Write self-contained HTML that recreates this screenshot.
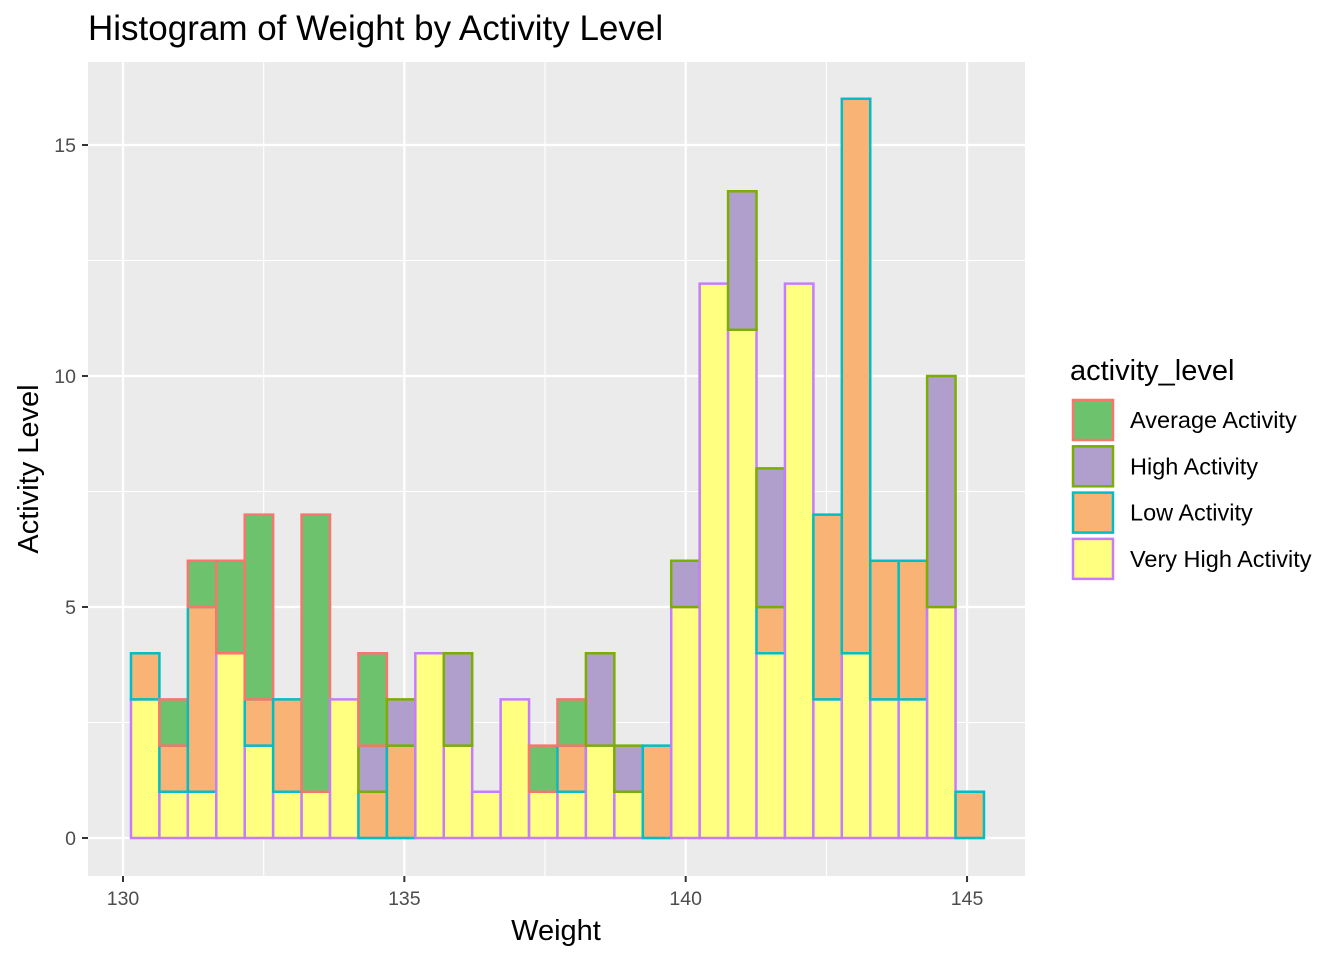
<!DOCTYPE html>
<html><head><meta charset="utf-8"><style>
body{margin:0;background:#fff;}
svg{display:block;font-family:"Liberation Sans",sans-serif;}
</style></head><body>
<svg id="chart" width="1344" height="960">
<rect x="88" y="62" width="937" height="814" fill="#EBEBEB"/>
<g id="grid"></g><g id="bars"></g><g id="axes"></g>
<text x="88" y="40" font-size="35" fill="#000">Histogram of Weight by Activity Level</text>
<text x="556" y="940" font-size="29" text-anchor="middle" fill="#000">Weight</text>
<text transform="translate(38,469) rotate(-90)" font-size="29" text-anchor="middle" fill="#000">Activity Level</text>
<g id="legend"></g>
</svg>
<script>
const levels=["Average Activity","High Activity","Low Activity","Very High Activity"];
const fills=["#6DC36D","#B09FCC","#F9B374","#FFFF80"];
const strokes=["#F8766D","#7CAE00","#00BFC4","#C77CFF"];
const veryHigh=[3,1,1,4,2,1,1,3,0,0,4,2,1,3,1,1,2,1,0,5,12,11,4,12,3,4,3,3,5,0];
const low=[1,1,4,0,1,2,0,0,1,2,0,0,0,0,0,1,0,0,2,0,0,0,1,0,4,12,3,3,0,1];
const high=[0,0,0,0,0,0,0,0,1,1,0,2,0,0,0,0,2,1,0,1,0,3,3,0,0,0,0,0,5,0];
const average=[0,1,1,2,4,0,6,0,2,0,0,0,0,0,1,1,0,0,0,0,0,0,0,0,0,0,0,0,0,0];
const xTicks=[130,135,140,145];
const yTicks=[0,5,10,15];
const binStart=130.142, binWidth=0.5053;
const NS="http://www.w3.org/2000/svg";
const X=v=>123+(v-130)*56.27;
const Y=v=>838-v*46.2;
function mk(tag,attrs,parent){const e=document.createElementNS(NS,tag);for(const k in attrs)e.setAttribute(k,attrs[k]);parent.appendChild(e);return e;}
const grid=document.getElementById('grid'),bars=document.getElementById('bars'),axes=document.getElementById('axes'),legend=document.getElementById('legend');
for(let i=0;i<xTicks.length-1;i++){const m=(xTicks[i]+xTicks[i+1])/2;const l=mk('line',{x1:X(m),x2:X(m),y1:62,y2:876,stroke:'#fff','stroke-width':1.1},grid);}
for(let i=0;i<yTicks.length-1;i++){const m=(yTicks[i]+yTicks[i+1])/2;const l=mk('line',{x1:88,x2:1025,y1:Y(m),y2:Y(m),stroke:'#fff','stroke-width':1.1},grid);}
xTicks.forEach(t=>{const l=mk('line',{x1:X(t),x2:X(t),y1:62,y2:876,stroke:'#fff','stroke-width':2.2},grid);
const k=mk('line',{x1:X(t),x2:X(t),y1:876,y2:882,stroke:'#333','stroke-width':2},axes);
const tx=mk('text',{x:X(t),y:905,'font-size':19.5,'text-anchor':'middle',fill:'#4D4D4D'},axes);tx.textContent=t;});
yTicks.forEach(t=>{const l=mk('line',{x1:88,x2:1025,y1:Y(t),y2:Y(t),stroke:'#fff','stroke-width':2.2},grid);
const k=mk('line',{x1:82,x2:88,y1:Y(t),y2:Y(t),stroke:'#333','stroke-width':2},axes);
const tx=mk('text',{x:76,y:Y(t)+7,'font-size':19.5,'text-anchor':'end',fill:'#4D4D4D'},axes);tx.textContent=t;});
const stackOrder=[[veryHigh,3],[low,2],[high,1],[average,0]];
for(let i=0;i<veryHigh.length;i++){
  let base=0;const x0=X(binStart+i*binWidth),x1=X(binStart+(i+1)*binWidth);
  stackOrder.forEach(([arr,li])=>{
    const v=arr[i];const y0=Y(base),y1=Y(base+v);
    if(v>0||base===0){
      const p=mk('path',{d:`M${x0},${y0}L${x0},${y1}L${x1},${y1}L${x1},${y0}Z`,fill:fills[li],stroke:strokes[li],'stroke-width':2.5},bars);
      
      
    }
    base+=v;
  });
}
const lt=mk('text',{x:1070,y:380,'font-size':29,fill:'#000'},legend);lt.textContent='activity_level';


levels.forEach((lv,i)=>{const y=400+i*46.3;
const r=mk('rect',{x:1073,y:y,width:40,height:40,fill:fills[i],stroke:strokes[i],'stroke-width':2.5},legend);


const t=mk('text',{x:1130,y:y+28,'font-size':23.5,fill:'#000'},legend);t.textContent=lv;

});
</script>
</body></html>
